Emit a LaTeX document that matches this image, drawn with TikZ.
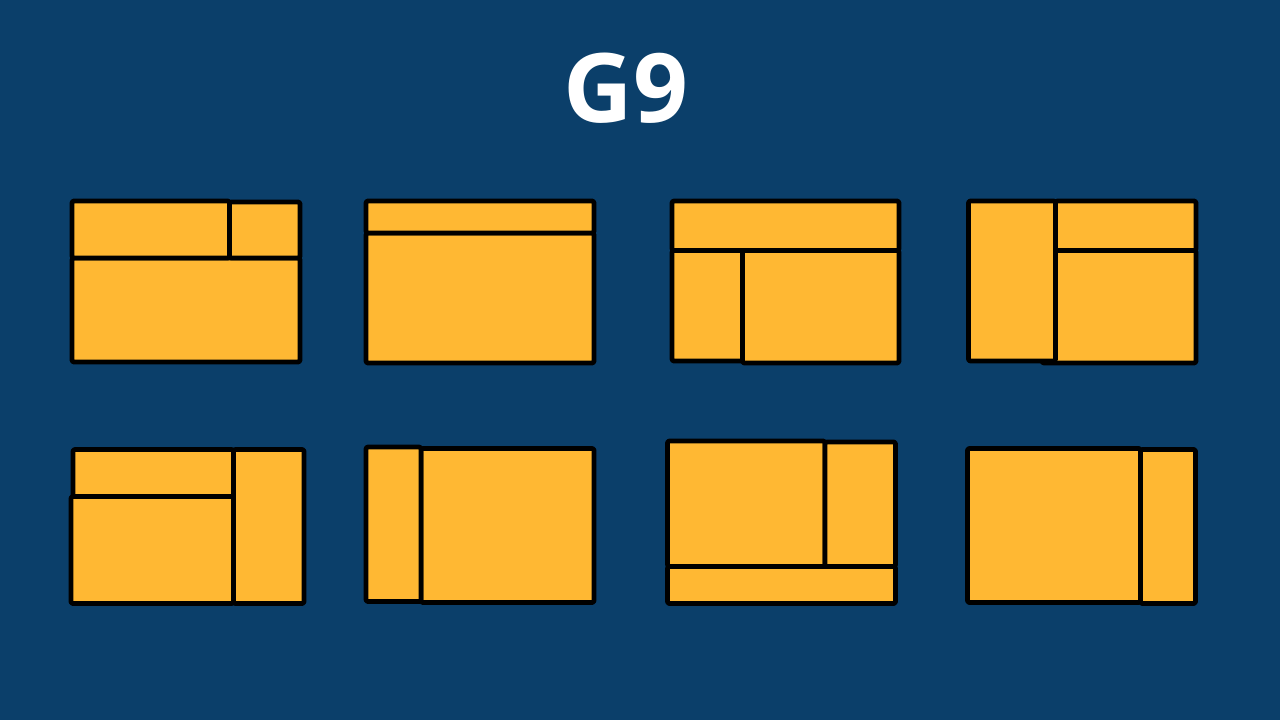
\documentclass[tikz,border=0pt]{standalone}
\usepackage{fontspec}
\newfontfamily\titlefont{Open Sans}
\definecolor{bgblue}{HTML}{0B3F6A}
\definecolor{panelyellow}{HTML}{FFB833}
\begin{document}
\begin{tikzpicture}[x=0.75pt,y=-0.75pt,
  panel/.style={fill=panelyellow,draw=black,line width=3.6pt,rounded corners=1.5pt,line join=round}]
\fill[bgblue] (0,0) rectangle (1280,720);
\useasboundingbox (0,0) rectangle (1280,720);
\node[text=white,font=\titlefont\bfseries\fontsize{72}{86}\selectfont,inner sep=0pt] (title) at (626,88.5) {G9};
% icon 1
\draw[panel] (72,258) rectangle (300,362);
\draw[panel] (72,201) rectangle (229.5,258);
\draw[panel] (229.5,202) rectangle (300,258);
% icon 2
\draw[panel] (366,233) rectangle (594,363);
\draw[panel] (366,201) rectangle (594,233);
% icon 3
\draw[panel] (672,201) rectangle (899,250.5);
\draw[panel] (672,250.5) rectangle (742.5,361);
\draw[panel] (742.5,250.5) rectangle (899,363);
% icon 4
\draw[panel] (1055.5,201) rectangle (1196,250.5);
\draw[panel] (1042,250.5) rectangle (1196,363);
\draw[panel] (968.5,201) rectangle (1055.5,361);
% icon 5
\draw[panel] (233.5,449.5) rectangle (304,603.5);
\draw[panel] (73,449.5) rectangle (233.5,496.5);
\draw[panel] (71,496.5) rectangle (233.5,603.5);
% icon 6
\draw[panel] (421,448.5) rectangle (594,602.5);
\draw[panel] (366,447) rectangle (421,601.5);
% icon 7
\draw[panel] (667.5,566.5) rectangle (895.5,603.5);
\draw[panel] (667.5,441) rectangle (825,566.5);
\draw[panel] (825,442) rectangle (895.5,566.5);
% icon 8
\draw[panel] (967.5,448.5) rectangle (1140.5,602.5);
\draw[panel] (1140.5,449.5) rectangle (1195.5,603.5);
\end{tikzpicture}
\end{document}
